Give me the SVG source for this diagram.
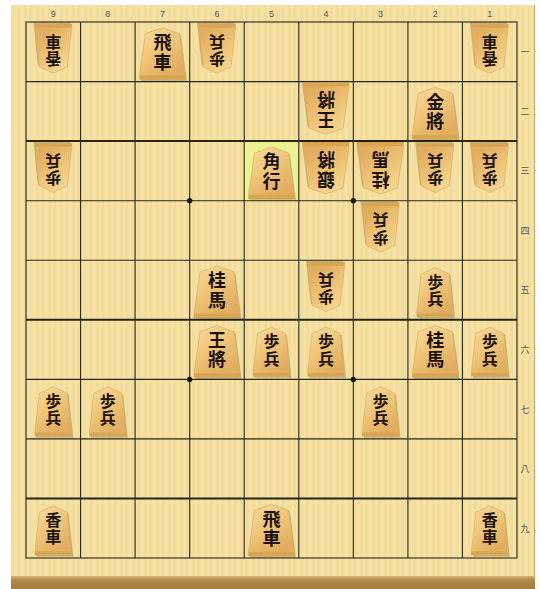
<svg xmlns="http://www.w3.org/2000/svg" xmlns:xlink="http://www.w3.org/1999/xlink" width="541" height="589" viewBox="0 0 541 589">
<style>
.lbl{font-family:"Liberation Sans",Arial,sans-serif;font-size:9px;fill:#555;text-anchor:middle}
.rlbl{font-family:"Noto Sans CJK JP",sans-serif;font-size:9px;fill:#555;text-anchor:middle}
.k{font-family:"Noto Sans CJK JP","Noto Sans CJK SC",sans-serif;font-weight:700;fill:#1a1208;text-anchor:middle;writing-mode:vertical-rl;dominant-baseline:central}
.kb{font-size:18px;letter-spacing:1.5px}
.ks{font-size:16px;letter-spacing:1.5px}
.gl{stroke:#2b2518;stroke-width:1.1;fill:none}
.gt{stroke:#2b2518;stroke-width:2;fill:none}
</style>
<defs>
<pattern id="stripes" width="6" height="10" patternUnits="userSpaceOnUse">
<rect width="6" height="10" fill="#f3dd9b"/>
<rect x="0" width="2" height="10" fill="#efd690" opacity="0.7"/>
<rect x="4" width="1" height="10" fill="#f7e4aa" opacity="0.8"/>
</pattern>
<linearGradient id="wood" x1="0" y1="0" x2="0.6" y2="1">
<stop offset="0" stop-color="#f9dc9c"/>
<stop offset="0.5" stop-color="#f0c679"/>
<stop offset="1" stop-color="#e2ad5e"/>
</linearGradient>
<linearGradient id="band" x1="0" y1="0" x2="0" y2="1">
<stop offset="0" stop-color="#d7b674"/>
<stop offset="0.3" stop-color="#b38a4a"/>
<stop offset="1" stop-color="#a47c3e"/>
</linearGradient>
<g id="big">
<path d="M1.5,-24.5 L18.5,-18.5 L24.5,27.5 L-21.5,27.5 L-15.5,-18.5 Z" fill="#000" opacity="0.18"/>
<path d="M0,-26 L17,-20 L23,22 L-23,22 L-17,-20 Z" fill="url(#wood)" stroke="#d6a85a" stroke-width="0.6"/>
<path d="M-23,22 L23,22 L23.4,26 L-23.4,26 Z" fill="#d8a552"/>
</g>
<g id="small">
<path d="M1.5,-23 L15.5,-16.5 L20,26.5 L-17,26.5 L-12.5,-16.5 Z" fill="#000" opacity="0.18"/>
<path d="M0,-24.5 L14,-18 L18.5,21.5 L-18.5,21.5 L-14,-18 Z" fill="url(#wood)" stroke="#d6a85a" stroke-width="0.6"/>
<path d="M-18.5,21.5 L18.5,21.5 L18.8,25 L-18.8,25 Z" fill="#d8a552"/>
</g>
</defs>

<g id="board">
<rect x="0" y="0" width="541" height="589" fill="#ffffff"/>
<rect x="11" y="5" width="524" height="584" fill="url(#stripes)"/>
<rect x="11" y="5" width="524" height="584" fill="#f7e6ad" opacity="0.25"/>
<line x1="534.5" y1="5" x2="534.5" y2="577" stroke="#c8a765" stroke-width="1"/>
<rect x="11" y="576" width="524" height="13" fill="url(#band)"/>
<rect x="244.6" y="141.1" width="54.6" height="59.6" fill="#ecf292"/>
</g>

<g id="grid">
<rect x="26" y="22" width="491" height="536" class="gl"/>
<line x1="80.6" y1="22" x2="80.6" y2="558" class="gl"/>
<line x1="135.1" y1="22" x2="135.1" y2="558" class="gl"/>
<line x1="189.7" y1="22" x2="189.7" y2="558" class="gl"/>
<line x1="244.2" y1="22" x2="244.2" y2="558" class="gl"/>
<line x1="298.8" y1="22" x2="298.8" y2="558" class="gl"/>
<line x1="353.3" y1="22" x2="353.3" y2="558" class="gl"/>
<line x1="407.9" y1="22" x2="407.9" y2="558" class="gl"/>
<line x1="462.4" y1="22" x2="462.4" y2="558" class="gl"/>
<line x1="26" y1="81.6" x2="517" y2="81.6" class="gl"/>
<line x1="26" y1="141.1" x2="517" y2="141.1" class="gt"/>
<line x1="26" y1="200.7" x2="517" y2="200.7" class="gl"/>
<line x1="26" y1="260.2" x2="517" y2="260.2" class="gl"/>
<line x1="26" y1="319.8" x2="517" y2="319.8" class="gt"/>
<line x1="26" y1="379.4" x2="517" y2="379.4" class="gl"/>
<line x1="26" y1="438.9" x2="517" y2="438.9" class="gl"/>
<line x1="26" y1="498.5" x2="517" y2="498.5" class="gt"/>
<circle cx="189.7" cy="200.7" r="2.6" fill="#111"/>
<circle cx="353.3" cy="200.7" r="2.6" fill="#111"/>
<circle cx="189.7" cy="379.4" r="2.6" fill="#111"/>
<circle cx="353.3" cy="379.4" r="2.6" fill="#111"/>
</g>

<g id="labels">
<text class="lbl" x="53.3" y="17">9</text>
<text class="lbl" x="107.8" y="17">8</text>
<text class="lbl" x="162.4" y="17">7</text>
<text class="lbl" x="217" y="17">6</text>
<text class="lbl" x="271.5" y="17">5</text>
<text class="lbl" x="326.1" y="17">4</text>
<text class="lbl" x="380.6" y="17">3</text>
<text class="lbl" x="435.2" y="17">2</text>
<text class="lbl" x="489.8" y="17">1</text>
<text class="rlbl" x="525" y="55">一</text>
<text class="rlbl" x="525" y="115">二</text>
<text class="rlbl" x="525" y="174">三</text>
<text class="rlbl" x="525" y="234">四</text>
<text class="rlbl" x="525" y="293">五</text>
<text class="rlbl" x="525" y="353">六</text>
<text class="rlbl" x="525" y="413">七</text>
<text class="rlbl" x="525" y="472">八</text>
<text class="rlbl" x="525" y="532">九</text>
</g>

<g id="pieces">
<g id="p91" transform="translate(53.3,48.8) rotate(180)"><use href="#small"/><text class="k ks" x="0" y="-1">香車</text></g>
<g id="p61" transform="translate(217,48.8) rotate(180)"><use href="#small"/><text class="k ks" x="0" y="-1">歩兵</text></g>
<g id="p11" transform="translate(489.8,48.8) rotate(180)"><use href="#small"/><text class="k ks" x="0" y="-1">香車</text></g>
<g id="p42" transform="translate(326.1,108.3) rotate(180)"><use href="#big"/><text class="k kb" x="0" y="-1">王將</text></g>
<g id="p93" transform="translate(53.3,167.9) rotate(180)"><use href="#small"/><text class="k ks" x="0" y="-1">歩兵</text></g>
<g id="p43" transform="translate(326.1,167.9) rotate(180)"><use href="#big"/><text class="k kb" x="0" y="-1">銀將</text></g>
<g id="p33" transform="translate(380.6,167.9) rotate(180)"><use href="#big"/><text class="k kb" x="0" y="-1">桂馬</text></g>
<g id="p23" transform="translate(435.2,167.9) rotate(180)"><use href="#small"/><text class="k ks" x="0" y="-1">歩兵</text></g>
<g id="p13" transform="translate(489.8,167.9) rotate(180)"><use href="#small"/><text class="k ks" x="0" y="-1">歩兵</text></g>
<g id="p34" transform="translate(380.6,227.5) rotate(180)"><use href="#small"/><text class="k ks" x="0" y="-1">歩兵</text></g>
<g id="p45" transform="translate(326.1,287) rotate(180)"><use href="#small"/><text class="k ks" x="0" y="-1">歩兵</text></g>
<g id="p71" transform="translate(162.4,53.8)"><use href="#big"/><text class="k kb" x="0" y="-1">飛車</text></g>
<g id="p22" transform="translate(435.2,113.3)"><use href="#big"/><text class="k kb" x="0" y="-1">金將</text></g>
<g id="p53" transform="translate(271.5,172.9)"><use href="#big"/><text class="k kb" x="0" y="-1">角行</text></g>
<g id="p65" transform="translate(217,292)"><use href="#big"/><text class="k kb" x="0" y="-1">桂馬</text></g>
<g id="p25" transform="translate(435.2,292)"><use href="#small"/><text class="k ks" x="0" y="-1">歩兵</text></g>
<g id="p66" transform="translate(217,351.6)"><use href="#big"/><text class="k kb" x="0" y="-1">王將</text></g>
<g id="p56" transform="translate(271.5,351.6)"><use href="#small"/><text class="k ks" x="0" y="-1">歩兵</text></g>
<g id="p46" transform="translate(326.1,351.6)"><use href="#small"/><text class="k ks" x="0" y="-1">歩兵</text></g>
<g id="p26" transform="translate(435.2,351.6)"><use href="#big"/><text class="k kb" x="0" y="-1">桂馬</text></g>
<g id="p16" transform="translate(489.8,351.6)"><use href="#small"/><text class="k ks" x="0" y="-1">歩兵</text></g>
<g id="p97" transform="translate(53.3,411.2)"><use href="#small"/><text class="k ks" x="0" y="-1">歩兵</text></g>
<g id="p87" transform="translate(107.8,411.2)"><use href="#small"/><text class="k ks" x="0" y="-1">歩兵</text></g>
<g id="p37" transform="translate(380.6,411.2)"><use href="#small"/><text class="k ks" x="0" y="-1">歩兵</text></g>
<g id="p99" transform="translate(53.3,530.3)"><use href="#small"/><text class="k ks" x="0" y="-1">香車</text></g>
<g id="p59" transform="translate(271.5,530.3)"><use href="#big"/><text class="k kb" x="0" y="-1">飛車</text></g>
<g id="p19" transform="translate(489.8,530.3)"><use href="#small"/><text class="k ks" x="0" y="-1">香車</text></g>
</g>
</svg>
